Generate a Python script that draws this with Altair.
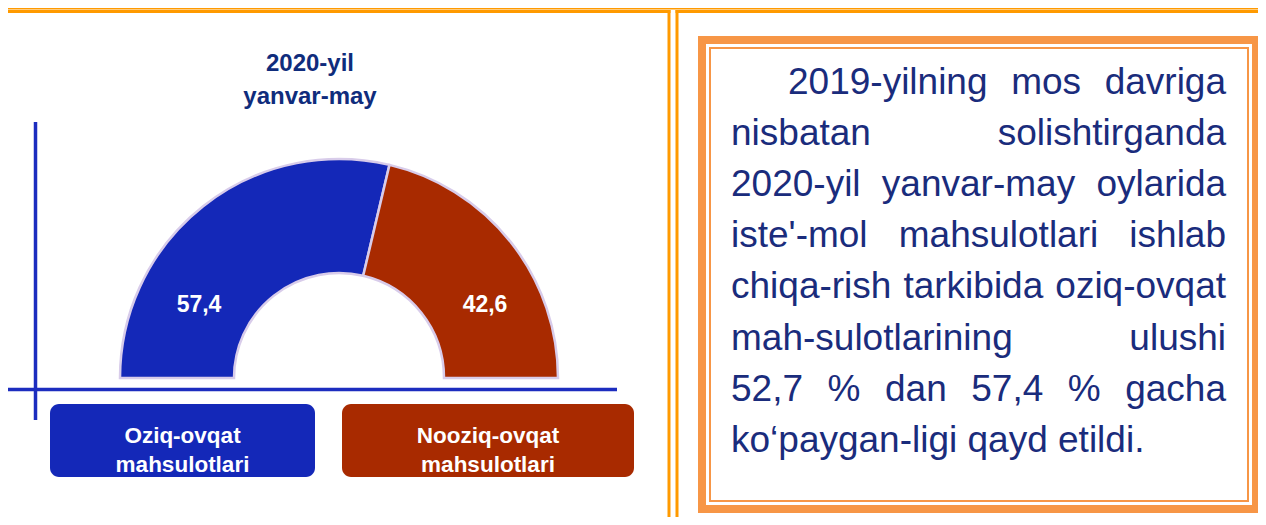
import math
import altair as alt
import pandas as pd

# ---------------- data ----------------
categories = ["Oziq-ovqat mahsulotlari", "Nooziq-ovqat mahsulotlari"]
legend_lines = [["Oziq-ovqat", "mahsulotlari"], ["Nooziq-ovqat", "mahsulotlari"]]
shares = [57.4, 42.6]
title_lines = ["2020-yil", "yanvar-may"]
paragraph_lines = [
    "2019-yilning mos davriga",
    "nisbatan solishtirganda",
    "2020-yil yanvar-may oylarida",
    "iste'-mol mahsulotlari ishlab",
    "chiqa-rish tarkibida oziq-ovqat",
    "mah-sulotlarining ulushi",
    "52,7 % dan 57,4 % gacha",
    "ko\u2018paygan-ligi qayd etildi.",
]

# ---------------- styles / layout ----------------
W, H = 1250, 509
FONT = "Liberation Sans"
BLUE = "#1428B8"
RED = "#A82A00"
NAVY = "#1A2C7C"
TITLE_NAVY = "#0F2C7C"
AXIS_BLUE = "#1C2DBF"
ORANGE = "#FF9A00"
BOX_ORANGE = "#F79646"
ARC_STROKE = "#D8CCEA"

CX, CY = 331, 370          # donut centre
R_OUT, R_IN = 219, 105

one = pd.DataFrame({"k": [0]})


def rule(x, x2, y, y2, color, width):
    return alt.Chart(one).mark_rule(color=color, strokeWidth=width).encode(
        x=alt.value(x), x2=alt.value(x2), y=alt.value(y), y2=alt.value(y2)
    )


layers = []

# orange frame lines
layers.append(rule(0, W, 0, 0, ORANGE, 3))
layers.append(rule(0, 662.5, 3.5, 3.5, ORANGE, 3))
layers.append(rule(661, 661, 2, H, ORANGE, 3))
layers.append(rule(667.5, W, 3.5, 3.5, ORANGE, 3))
layers.append(rule(669, 669, 2, H, ORANGE, 3))

# blue axes
layers.append(rule(27.5, 27.5, 114, 412, AXIS_BLUE, 3.5))
layers.append(rule(0, 609, 381.5, 381.5, AXIS_BLUE, 3.5))

# half donut
df = pd.DataFrame({
    "category": categories,
    "share": shares,
    "idx": list(range(len(categories))),
    "label": [f"{v:.1f}".replace(".", ",") for v in shares],
})
color_scale = alt.Scale(domain=categories, range=[BLUE, RED])

arc = alt.Chart(df).mark_arc(
    outerRadius=R_OUT, innerRadius=R_IN, stroke=ARC_STROKE, strokeWidth=2.5
).encode(
    theta=alt.Theta("share:Q", stack=True,
                    scale=alt.Scale(range=[-math.pi / 2, math.pi / 2])),
    color=alt.Color("category:N", scale=color_scale, legend=None),
    order=alt.Order("idx:Q"),
    x=alt.value(CX),
    y=alt.value(CY),
)
layers.append(arc)

# value labels
label_pos = [(191, 303.5), (477, 303.5)]
for i, cat in enumerate(categories):
    layers.append(
        alt.Chart(df).transform_filter(alt.datum.category == cat).mark_text(
            font=FONT, fontSize=23, fontWeight="bold", color="white",
            align="center", baseline="alphabetic"
        ).encode(x=alt.value(label_pos[i][0]), y=alt.value(label_pos[i][1]),
                 text="label:N")
    )

# title
title_df = pd.DataFrame({
    "line": title_lines,
    "py": [63 + 33 * i for i in range(len(title_lines))],
})
layers.append(
    alt.Chart(title_df).mark_text(
        font=FONT, fontSize=24, fontWeight="bold", color=TITLE_NAVY,
        align="center", baseline="alphabetic"
    ).encode(x=alt.value(302), y=alt.Y("py:Q", scale=None, axis=None),
             text="line:N")
)

# legend boxes
box_x = [(42, 307), (334, 626)]
for i, cat in enumerate(categories):
    layers.append(
        alt.Chart(df).transform_filter(alt.datum.category == cat).mark_rect(
            cornerRadius=9
        ).encode(
            x=alt.value(box_x[i][0]), x2=alt.value(box_x[i][1]),
            y=alt.value(396), y2=alt.value(469),
            color=alt.Color("category:N", scale=color_scale, legend=None),
        )
    )
leg_rows = []
for i, lines in enumerate(legend_lines):
    cxb = (box_x[i][0] + box_x[i][1]) / 2
    for j, t in enumerate(lines):
        leg_rows.append({"t": t, "px": cxb, "py": 435 + 29 * j})
leg_df = pd.DataFrame(leg_rows)
layers.append(
    alt.Chart(leg_df).mark_text(
        font=FONT, fontSize=22.5, fontWeight="bold", color="white",
        align="center", baseline="alphabetic"
    ).encode(x=alt.X("px:Q", scale=None, axis=None),
             y=alt.Y("py:Q", scale=None, axis=None), text="t:N")
)

# text box frame
layers.append(
    alt.Chart(one).mark_rect(fillOpacity=0, stroke=BOX_ORANGE, strokeWidth=8).encode(
        x=alt.value(694), x2=alt.value(1248), y=alt.value(32), y2=alt.value(501)
    )
)
layers.append(
    alt.Chart(one).mark_rect(fillOpacity=0, stroke=BOX_ORANGE, strokeWidth=2).encode(
        x=alt.value(702), x2=alt.value(1240), y=alt.value(40), y2=alt.value(493)
    )
)

# justified paragraph (Arial / Liberation Sans metrics)
ARIAL = {" ": 278, "!": 278, "'": 191, "%": 889, ",": 278, "-": 333, ".": 278,
         "\u2018": 222, "a": 556, "b": 556, "c": 500, "d": 556, "e": 556,
         "f": 278, "g": 556, "h": 556, "i": 222, "j": 222, "k": 500, "l": 222,
         "m": 833, "n": 556, "o": 556, "p": 556, "q": 556, "r": 333, "s": 500,
         "t": 278, "u": 556, "v": 500, "w": 722, "x": 500, "y": 500, "z": 500}
for d in "0123456789":
    ARIAL[d] = 556
FS = 37


def text_w(s):
    return sum(ARIAL.get(ch, 556) for ch in s) * FS / 1000.0


P_LEFT, P_RIGHT, P_INDENT = 723, 1218, 780
P_BASE, P_STEP = 86, 51.1
word_rows = []
for i, line in enumerate(paragraph_lines):
    y = P_BASE + P_STEP * i
    left = P_INDENT if i == 0 else P_LEFT
    if i == len(paragraph_lines) - 1:
        word_rows.append({"w": line, "px": left, "py": y})
        continue
    words = line.split(" ")
    widths = [text_w(w) for w in words]
    gap = (P_RIGHT - left - sum(widths)) / (len(words) - 1)
    x = left
    for w, ww in zip(words, widths):
        word_rows.append({"w": w, "px": x, "py": y})
        x += ww + gap
words_df = pd.DataFrame(word_rows)
layers.append(
    alt.Chart(words_df).mark_text(
        font=FONT, fontSize=FS, color=NAVY, align="left", baseline="alphabetic"
    ).encode(x=alt.X("px:Q", scale=None, axis=None),
             y=alt.Y("py:Q", scale=None, axis=None), text="w:N")
)

chart = alt.layer(*layers).properties(
    width=W, height=H, padding=0, autosize=alt.AutoSizeParams(type="none"),
    background="white",
).configure_view(stroke=None)

chart.save("out.html", embed_options={"renderer": "svg", "actions": False})
